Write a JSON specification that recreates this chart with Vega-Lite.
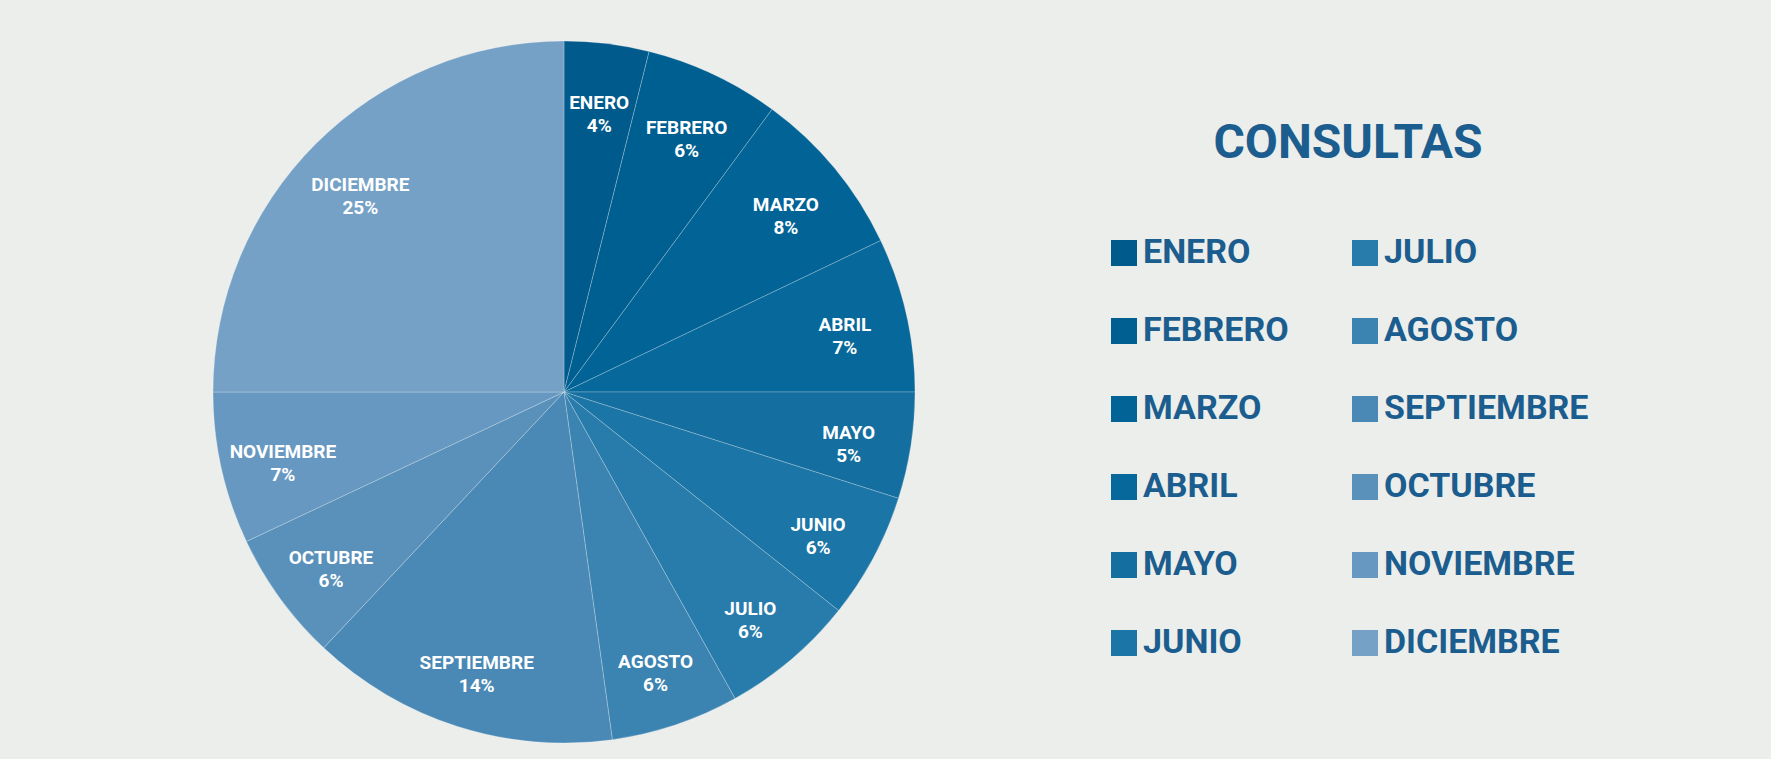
{
  "$schema": "https://vega.github.io/schema/vega-lite/v6.json",
  "width": 1102,
  "height": 734,
  "autosize": {"type": "none"},
  "padding": {"left": 13, "top": 25, "right": 656, "bottom": 0},
  "background": "#ECEEEB",
  "config": {"view": {"stroke": null}},
  "data": {
    "values": [
      {"mes": "ENERO", "idx": 1, "pct": 0.039},
      {"mes": "FEBRERO", "idx": 2, "pct": 0.062},
      {"mes": "MARZO", "idx": 3, "pct": 0.078},
      {"mes": "ABRIL", "idx": 4, "pct": 0.071},
      {"mes": "MAYO", "idx": 5, "pct": 0.049},
      {"mes": "JUNIO", "idx": 6, "pct": 0.058},
      {"mes": "JULIO", "idx": 7, "pct": 0.062},
      {"mes": "AGOSTO", "idx": 8, "pct": 0.059},
      {"mes": "SEPTIEMBRE", "idx": 9, "pct": 0.142},
      {"mes": "OCTUBRE", "idx": 10, "pct": 0.060},
      {"mes": "NOVIEMBRE", "idx": 11, "pct": 0.070},
      {"mes": "DICIEMBRE", "idx": 12, "pct": 0.250}
    ]
  },
  "encoding": {
    "theta": {"field": "pct", "type": "quantitative", "stack": true},
    "order": {"field": "idx", "type": "quantitative"}
  },
  "layer": [
    {
      "mark": {"type": "arc", "outerRadius": 351, "stroke": "#ffffff", "strokeWidth": 0.6, "strokeOpacity": 0.4},
      "encoding": {
        "color": {
          "field": "mes",
          "type": "nominal",
          "scale": {
            "domain": ["ENERO", "FEBRERO", "MARZO", "ABRIL", "MAYO", "JUNIO", "JULIO", "AGOSTO", "SEPTIEMBRE", "OCTUBRE", "NOVIEMBRE", "DICIEMBRE"],
            "range": ["#005A8C", "#005F91", "#016396", "#07689B", "#146FA0", "#1B75A6", "#287CAB", "#3B83B1", "#4A89B5", "#5991BA", "#6798C1", "#76A1C6"]
          },
          "legend": {
            "title": "CONSULTAS",
            "orient": "none",
            "legendX": 1094,
            "legendY": 95,
            "columns": 2,
            "columnPadding": 59,
            "rowPadding": 44,
            "symbolType": "square",
            "symbolSize": 676,
            "symbolStrokeWidth": 0,
            "symbolOpacity": 1,
            "labelFont": "Roboto",
            "labelFontWeight": "bold",
            "labelFontSize": 34,
            "labelColor": "#1B5D8E",
            "labelOffset": 2,
            "labelLimit": 400,
            "titleFont": "Roboto",
            "titleFontWeight": "bold",
            "titleFontSize": 48,
            "titleColor": "#1B5D8E",
            "titleAnchor": "middle",
            "titlePadding": 68,
            "titleLimit": 600
          }
        }
      }
    },
    {
      "mark": {"type": "text", "radius": 288, "dy": -3, "font": "Roboto", "fontWeight": "bold", "fontSize": 19, "fill": "#ffffff"},
      "encoding": {"text": {"field": "mes", "type": "nominal"}}
    },
    {
      "mark": {"type": "text", "radius": 288, "dy": 20, "font": "Roboto", "fontWeight": "bold", "fontSize": 19, "fill": "#ffffff"},
      "encoding": {"text": {"field": "pct", "type": "quantitative", "format": ".0%"}}
    }
  ]
}
